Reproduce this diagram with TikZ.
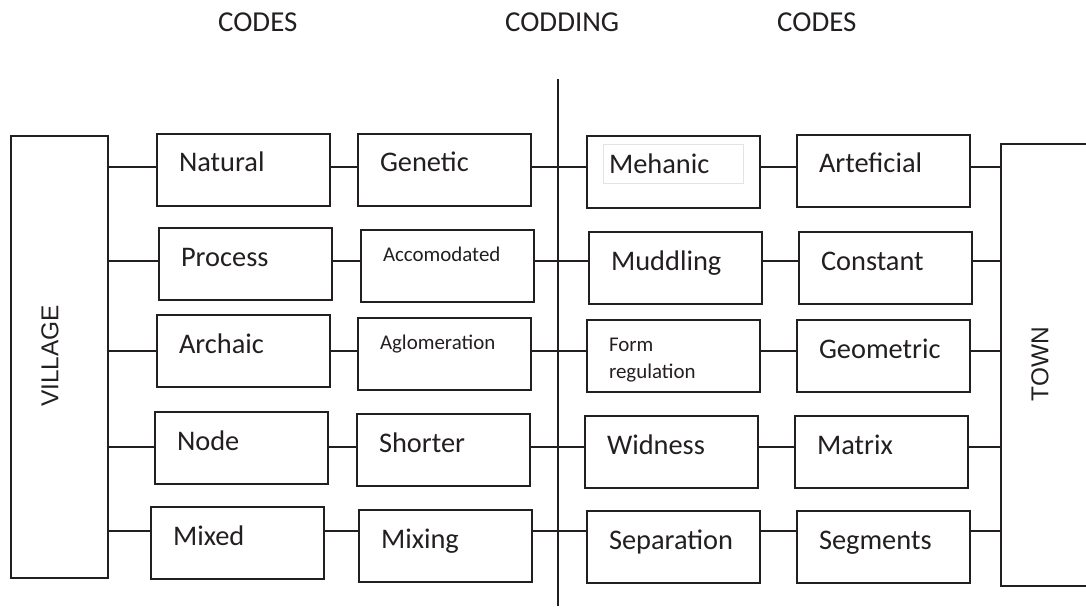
\documentclass[tikz,border=0pt]{standalone}
\usepackage{fontspec}
\setmainfont{Carlito}
\newfontfamily\arialf{Liberation Sans}
\usetikzlibrary{calc}
\definecolor{ink}{HTML}{231F20}
\begin{document}
\begin{tikzpicture}[x=1bp,y=-1bp,
  box/.style={draw=ink, line width=2bp, anchor=north west, inner xsep=22bp, inner ysep=0pt,
    text width=129bp, align=left, text height=38bp, text depth=34bp,
    font=\fontsize{28.5}{34}\selectfont, text=ink},
  smallbox/.style={box, text height=31bp, text depth=41bp, font=\fontsize{21}{28}\selectfont},
  sidebox/.style={draw=ink, line width=2bp, anchor=north west, inner sep=0pt, minimum height=442bp},
  link/.style={draw=ink, line width=2bp},
  head/.style={anchor=base west, inner sep=0pt, font=\fontsize{29}{34}\selectfont, text=ink},
  side/.style={rotate=90, inner sep=0pt, font=\arialf\fontsize{24.5}{28}\selectfont, text=ink}]
\useasboundingbox (0,0) rectangle (1086,615);

% headers
\node[head] (h1) at (218,32) {CODES};
\node[head] (h2) at (505,32) {CODDING};
\node[head] (h3) at (777,32) {CODES};

% central divider
\coordinate (vt) at (558,79);
\coordinate (vb) at (558,606);
\draw[ink, line width=1.2bp] (vt) -- (vb);

% side boxes
\node[sidebox, minimum width=97bp] (V) at (10,135) {};
\node[side] (Vt) at (50,356) {VILLAGE};
\node[sidebox, minimum width=110bp] (T) at (1000,143) {};
\node[side] (Tt) at (1040,364) {TOWN};

% row 1
\node[box] (nat) at (156,133) {Natural};
\node[box] (gen) at (357,133) {Genetic};
\node[box] (meh) at (586,135) {Mehanic};
\node[box] (art) at (796,134) {Arteficial};
% row 2
\node[box] (pro) at (158,227) {Process};
\node[smallbox] (acc) at (360,229) {Accomodated};
\node[box] (mud) at (588,231) {Muddling};
\node[box] (con) at (798,231) {Constant};
% row 3
\node[box] (arc) at (156,314) {Archaic};
\node[smallbox] (agl) at (357,317) {Aglomeration};
\node[smallbox] (frm) at (586,319) {Form\\regulation};
\node[box] (geo) at (796,319) {Geometric};
% row 4
\node[box] (nod) at (154,411) {Node};
\node[box] (sho) at (356,413) {Shorter};
\node[box] (wid) at (584,415) {Widness};
\node[box] (mat) at (794,415) {Matrix};
% row 5
\node[box] (mix) at (150,506) {Mixed};
\node[box] (mxg) at (358,509) {Mixing};
\node[box] (sep) at (586,510) {Separation};
\node[box] (seg) at (796,510) {Segments};

% faint text-box outline inside Mehanic
\draw[gray!22, line width=1bp] (603,145) rectangle (743,184);

% row levels
\coordinate (r1) at (0,167);
\coordinate (r2) at (0,261);
\coordinate (r3) at (0,351);
\coordinate (r4) at (0,447);
\coordinate (r5) at (0,531);

\foreach \a/\b/\c/\d/\r in {nat/gen/meh/art/r1, pro/acc/mud/con/r2, arc/agl/frm/geo/r3,
                            nod/sho/wid/mat/r4, mix/mxg/sep/seg/r5}{
  \draw[link] (V.east |- \r) -- (\a.west |- \r);
  \draw[link] (\a.east |- \r) -- (\b.west |- \r);
  \draw[link] (\b.east |- \r) -- (\c.west |- \r);
  \draw[link] (\c.east |- \r) -- (\d.west |- \r);
  \draw[link] (\d.east |- \r) -- (T.west |- \r);
}
\end{tikzpicture}
\end{document}
